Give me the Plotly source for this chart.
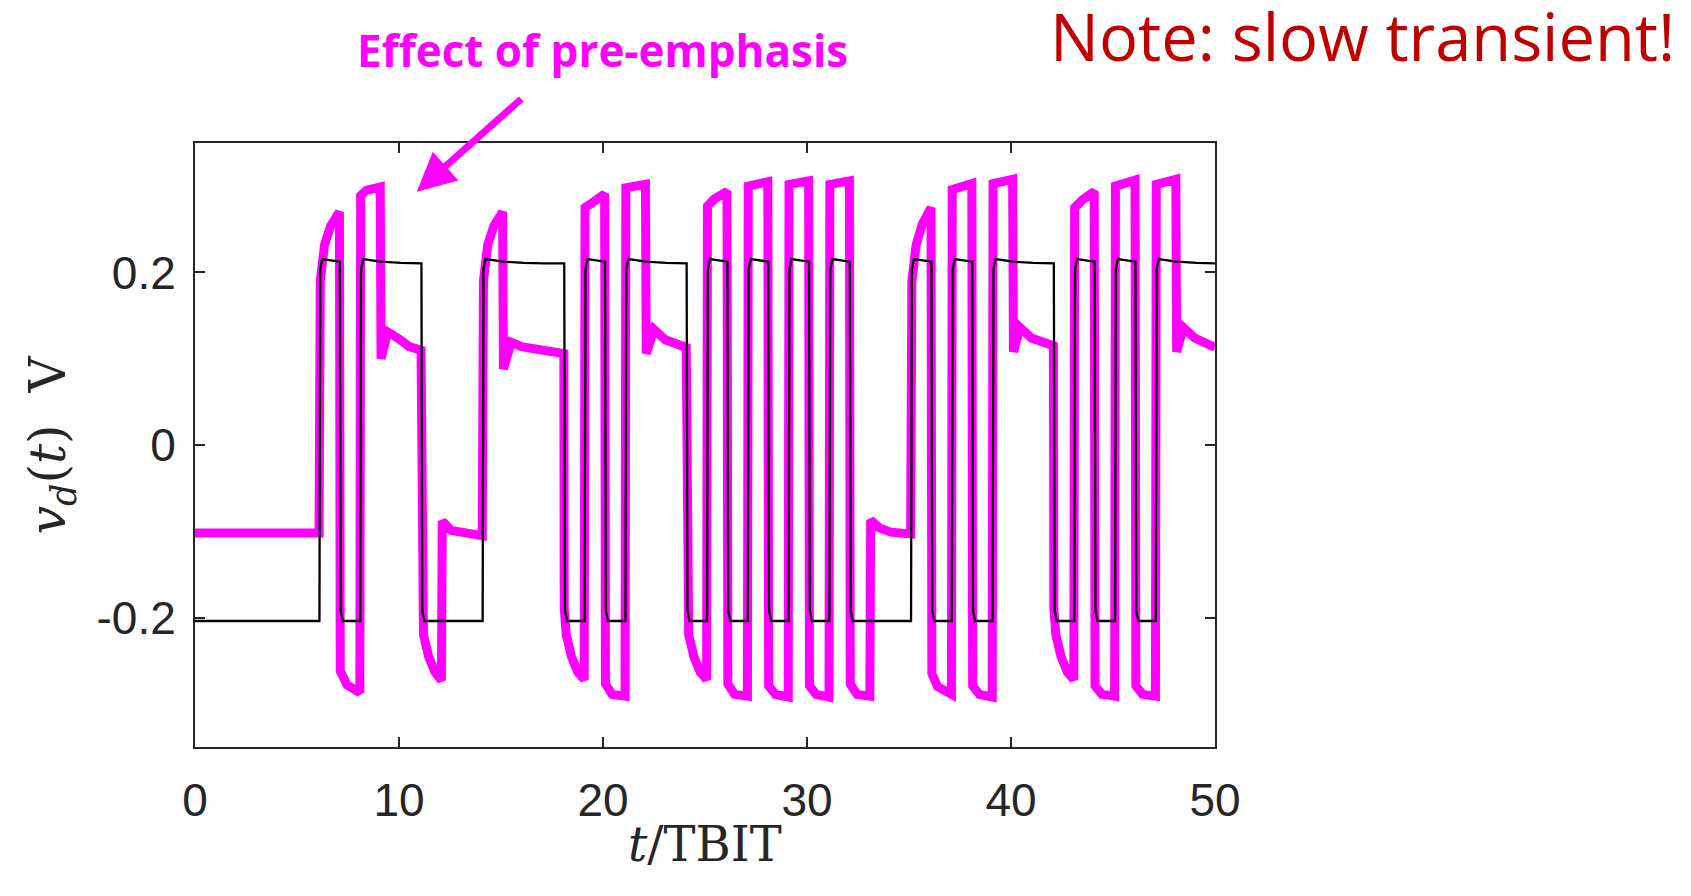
import plotly.graph_objects as go

# ---------------- data ----------------
# magenta (pre-emphasised driver output) : vertices (t/TBIT, volts)
magenta_t = [0, 6.08, 6.14, 6.35, 6.65, 7.08,
             7.12, 7.45, 8.08,
             8.12, 8.4, 9.08,
             9.12, 9.45, 10.0, 10.5, 11.08,
             11.1, 11.2, 11.45, 11.76, 12.08,
             12.12, 12.55, 13.3, 14.08,
             14.14, 14.35, 14.65, 15.08,
             15.12, 15.5, 16.0, 16.6, 18.08,
             18.1, 18.2, 18.45, 18.76, 19.08,
             19.12, 19.55, 20.08,
             20.12, 20.45, 21.08,
             21.12, 22.08,
             22.12, 22.5, 23.05, 24.08,
             24.1, 24.2, 24.45, 24.76, 25.08,
             25.12, 25.45, 26.08,
             26.12, 26.45, 27.08,
             27.12, 28.08,
             28.12, 28.45, 29.08,
             29.12, 30.08,
             30.12, 30.45, 31.08,
             31.12, 32.08,
             32.12, 32.45, 33.08,
             33.12, 33.55, 34.1, 35.08,
             35.14, 35.35, 35.65, 36.08,
             36.12, 36.4, 37.08,
             37.12, 38.08,
             38.12, 38.45, 39.08,
             39.12, 40.08,
             40.12, 40.45, 41.0, 42.08,
             42.1, 42.2, 42.45, 42.76, 43.08,
             43.12, 43.5, 44.08,
             44.12, 44.45, 45.08,
             45.12, 46.08,
             46.12, 46.45, 47.08,
             47.12, 48.08,
             48.12, 48.45, 49.0, 50.0]
magenta_v = [-0.102, -0.102, 0.19, 0.232, 0.254, 0.27,
             -0.262, -0.278, -0.287,
             0.289, 0.295, 0.299,
             0.100, 0.131, 0.123, 0.114, 0.110,
             -0.19, -0.22, -0.245, -0.263, -0.273,
             -0.088, -0.099, -0.103, -0.105,
             0.19, 0.232, 0.254, 0.27,
             0.088, 0.119, 0.114, 0.111, 0.106,
             -0.19, -0.22, -0.245, -0.263, -0.272,
             0.275, 0.282, 0.291,
             -0.277, -0.289, -0.291,
             0.298, 0.302,
             0.106, 0.134, 0.122, 0.113,
             -0.19, -0.22, -0.245, -0.263, -0.272,
             0.277, 0.285, 0.294,
             -0.277, -0.289, -0.291,
             0.300, 0.305,
             -0.279, -0.289, -0.292,
             0.302, 0.306,
             -0.279, -0.289, -0.292,
             0.302, 0.306,
             -0.277, -0.289, -0.291,
             -0.087, -0.096, -0.101, -0.103,
             0.19, 0.232, 0.256, 0.275,
             -0.265, -0.28, -0.289,
             0.296, 0.303,
             -0.279, -0.289, -0.292,
             0.303, 0.308,
             0.108, 0.136, 0.124, 0.115,
             -0.19, -0.22, -0.245, -0.263, -0.272,
             0.275, 0.284, 0.294,
             -0.279, -0.289, -0.291,
             0.300, 0.307,
             -0.279, -0.289, -0.291,
             0.302, 0.308,
             0.108, 0.136, 0.124, 0.113]

# black (reference NRZ signal): bit sequence and levels
bits = [0, 0, 0, 0, 0, 0, 1, 0, 1, 1, 1, 0, 0, 0, 1, 1, 1, 1, 0, 1,
        0, 1, 1, 1, 0, 1, 0, 1, 0, 1, 0, 1, 0, 0, 0, 1, 0, 1, 0, 1,
        1, 1, 0, 1, 0, 1, 0, 1, 1, 1]
black_low = -0.204
black_high = [0.2155, 0.2125, 0.211, 0.2105, 0.2105, 0.2105]  # level at k-th bit boundary of a run of ones
edge_delay = 0.1

x_ticks = [0, 10, 20, 30, 40, 50]
y_ticks = [-0.2, 0, 0.2]
y_ticktext = ["-0.2", "0", "0.2"]

# ---------------- build black vertices from bits ----------------
black_t = [0.0]
black_v = [black_low]
prev = bits[0]
run = 0
cur_end = black_low
for n in range(1, len(bits)):
    b = bits[n]
    e = n + edge_delay
    if b != prev:
        black_t += [e]
        black_v += [cur_end]
        if b == 1:
            run = 0
            black_t += [e + 0.04, e + 0.14]
            black_v += [black_high[0] - 0.012, black_high[0]]
            cur_end = black_high[1]
        else:
            black_t += [e + 0.04, e + 0.14]
            black_v += [black_low + 0.012, black_low]
            cur_end = black_low
    else:
        if b == 1:
            run += 1
            black_t += [e]
            black_v += [black_high[run]]
            cur_end = black_high[run + 1]
    prev = b
black_t += [50.0]
black_v += [cur_end]

assert len(magenta_t) == len(magenta_v)

fig = go.Figure()
fig.add_trace(go.Scatter(x=magenta_t, y=magenta_v, mode="lines",
                         line=dict(color="#FF00FF", width=9), hoverinfo="skip"))
fig.add_trace(go.Scatter(x=black_t, y=black_v, mode="lines",
                         line=dict(color="#000000", width=2.3), hoverinfo="skip"))

axis_common = dict(showgrid=False, zeroline=False, showline=True, linecolor="#262626",
                   linewidth=2, mirror="ticks", ticks="inside", ticklen=10, tickwidth=2,
                   tickcolor="#262626",
                   tickfont=dict(family="Liberation Sans, Arial", size=46, color="#262626"))

fig.update_layout(
    width=1691, height=896,
    margin=dict(l=195, r=476, t=143, b=149),
    paper_bgcolor="white", plot_bgcolor="white",
    showlegend=False,
    xaxis=dict(range=[0, 50], tickvals=x_ticks, ticklabelstandoff=12, **axis_common),
    yaxis=dict(range=[-0.35, 0.35], tickvals=y_ticks, ticktext=y_ticktext,
               ticklabelstandoff=8, **axis_common),
)

annotations = [
    dict(xref="paper", yref="paper", x=0.5, y=-0.16, xanchor="center", yanchor="middle",
         text="<i>t</i>/TBIT", showarrow=False,
         font=dict(family="DejaVu Serif", size=48, color="#262626")),
    dict(xref="paper", yref="paper", x=-0.141, y=0.50, xanchor="center", yanchor="middle",
         text="<i>v<sub>d</sub></i>(<i>t</i>)  V", textangle=-90, showarrow=False,
         font=dict(family="DejaVu Serif", size=50, color="#262626")),
    dict(xref="paper", yref="paper", x=(355 - 195) / 1020, y=(747.3 - 50) / 604,
         xanchor="left", yanchor="middle", text="<b>Effect of pre-emphasis</b>",
         showarrow=False, font=dict(family="Open Sans", size=44, color="#FF00FF")),
    dict(xref="paper", yref="paper", x=(1676 - 195) / 1020, y=(747.3 - 36) / 604,
         xanchor="right", yanchor="middle", text="Note: slow transient!", borderpad=0,
         showarrow=False, font=dict(family="Open Sans", size=65, color="#C00000")),
    dict(xref="x", yref="y", x=10.87, y=0.2936, ax=106, ay=-94, text="",
         showarrow=True, arrowhead=2, arrowsize=1.1, arrowwidth=7, arrowcolor="#FF00FF",
         standoff=0),
]
fig.update_layout(annotations=annotations)

fig.write_html("out.html")
